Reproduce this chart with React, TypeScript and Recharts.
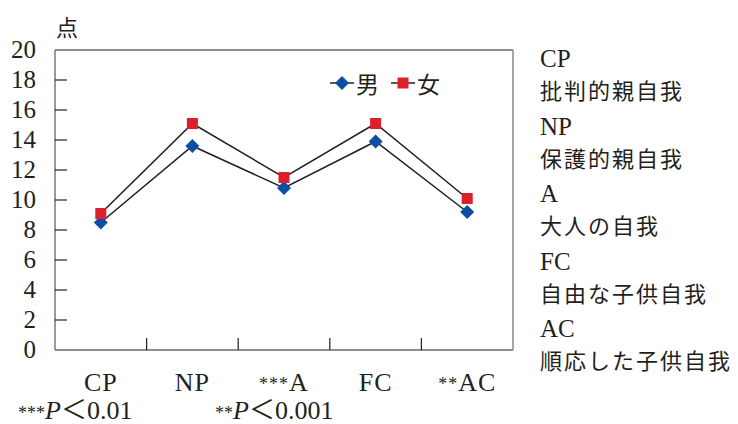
import { LineChart, Line, XAxis, YAxis, ReferenceLine } from "recharts";

const categories = ["CP", "NP", "***A", "FC", "**AC"];
const male = [8.5, 13.6, 10.8, 13.9, 9.2];
const female = [9.1, 15.1, 11.5, 15.1, 10.1];
const yTicks = [0, 2, 4, 6, 8, 10, 12, 14, 16, 18, 20];

const descriptions = [
  { code: "CP", name: "批判的親自我" },
  { code: "NP", name: "保護的親自我" },
  { code: "A", name: "大人の自我" },
  { code: "FC", name: "自由な子供自我" },
  { code: "AC", name: "順応した子供自我" },
];

const data = categories.map((c, i) => ({ name: c, male: male[i], female: female[i] }));

const W = 738;
const H = 424;
const xAxisHeight = 30;
const margin = { top: 50, right: 224, bottom: 74 - xAxisHeight, left: 10 };
const yAxisWidth = 45;
const halfBand = (W - margin.left - yAxisWidth - margin.right - 1) / categories.length / 2;

const SERIF = '"Liberation Serif", "DejaVu Serif", "Noto Sans CJK JP", serif';
const CJK = '"Noto Sans CJK JP", sans-serif';
const INK = "#231f20";
const BLUE = "#0b4ea2";
const RED = "#dc1f2b";

const YTick = ({ x, y, payload }: any) => {
  const v = payload.value;
  return (
    <g>
      {v > 0 && v < 20 && <line x1={x} x2={x + 12} y1={y} y2={y} stroke={INK} strokeWidth={1.2} />}
      <text x={x - 19} y={y} dy={8} textAnchor="end" fontSize={25} fill={INK} fontFamily={SERIF}>
        {v}
      </text>
    </g>
  );
};

const XTick = ({ x, y, payload, index }: any) => {
  const label: string = payload.value;
  const m = label.match(/^(\**)(.*)$/);
  const stars = m ? m[1] : "";
  const text = m ? m[2] : label;
  return (
    <g>
      {index < categories.length - 1 && (
        <line x1={x + halfBand} x2={x + halfBand} y1={y} y2={y - 12} stroke={INK} strokeWidth={1.2} />
      )}
      <text x={x} y={y + 41} textAnchor="middle" fontSize={26} letterSpacing={1} fill={INK} fontFamily={SERIF}>
        {stars && <tspan fontSize={18} dy={-1}>{stars}</tspan>}
        <tspan dy={stars ? 1 : 0}>{text}</tspan>
      </text>
    </g>
  );
};

const Diamond = ({ cx, cy }: any) => {
  const s = 7;
  return (
    <polygon
      points={`${cx},${cy - s} ${cx + s},${cy} ${cx},${cy + s} ${cx - s},${cy}`}
      fill={BLUE}
    />
  );
};

const Square = ({ cx, cy }: any) => <rect x={cx - 5.5} y={cy - 5.5} width={11} height={11} fill={RED} />;

export default function App() {
  return (
    <div
      style={{
        position: "absolute",
        left: 0,
        top: 0,
        width: W,
        height: H,
        background: "#fff",
        overflow: "hidden",
        fontFamily: SERIF,
        color: INK,
      }}
    >
      <LineChart width={W} height={H} data={data} margin={margin}>
        <XAxis
          dataKey="name"
          scale="band"
          height={xAxisHeight}
          axisLine={{ stroke: INK, strokeWidth: 1.2 }}
          tickLine={false}
          tickSize={0}
          tickMargin={0}
          tick={<XTick />}
          interval={0}
        />
        <YAxis
          yAxisId="l"
          domain={[0, 20]}
          ticks={yTicks}
          width={yAxisWidth}
          axisLine={{ stroke: "#777", strokeWidth: 1.5 }}
          tickLine={false}
          tickSize={0}
          tickMargin={0}
          tick={<YTick />}
          interval={0}
        />
        <YAxis
          yAxisId="r"
          orientation="right"
          domain={[0, 20]}
          width={1}
          tick={false}
          tickLine={false}
          axisLine={{ stroke: "#888", strokeWidth: 1.5 }}
        />
        <ReferenceLine yAxisId="l" y={20} stroke={INK} strokeWidth={1.2} />
        <Line
          yAxisId="l"
          dataKey="male"
          stroke={INK}
          strokeWidth={1.5}
          dot={<Diamond />}
          activeDot={false}
          isAnimationActive={false}
        />
        <Line
          yAxisId="l"
          dataKey="female"
          stroke={INK}
          strokeWidth={1.5}
          dot={<Square />}
          activeDot={false}
          isAnimationActive={false}
        />
      </LineChart>

      <div
        style={{
          position: "absolute",
          left: 330,
          top: 66,
          display: "flex",
          alignItems: "center",
          fontFamily: CJK,
          fontSize: 23,
        }}
      >
        <svg width={24} height={16}>
          <line x1={0} x2={24} y1={8} y2={8} stroke={INK} strokeWidth={1.5} />
          <polygon points="12,1 19,8 12,15 5,8" fill={BLUE} />
        </svg>
        <span style={{ marginLeft: 2, marginRight: 12 }}>男</span>
        <svg width={24} height={16}>
          <line x1={0} x2={24} y1={8} y2={8} stroke={INK} strokeWidth={1.5} />
          <rect x={6.5} y={2.5} width={11} height={11} fill={RED} />
        </svg>
        <span style={{ marginLeft: 2 }}>女</span>
      </div>

      <div style={{ position: "absolute", left: 56, top: 10, fontSize: 22, fontFamily: CJK }}>点</div>

      <div style={{ position: "absolute", left: 540, top: 44, width: 200 }}>
        {descriptions.map((d) => (
          <div key={d.code} style={{ height: 67.5 }}>
            <div style={{ fontSize: 25, lineHeight: "30px" }}>{d.code}</div>
            <div
              style={{
                fontSize: 22,
                lineHeight: "30px",
                letterSpacing: 2,
                whiteSpace: "nowrap",
                fontFamily: CJK,
              }}
            >
              {d.name}
            </div>
          </div>
        ))}
      </div>

      <div style={{ position: "absolute", left: 18, top: 400, fontSize: 26, lineHeight: "22px", whiteSpace: "nowrap" }}>
        <span style={{ display: "inline-block", width: 197 }}>
          <span style={{ fontSize: 18 }}>***</span>
          <i>P</i>＜0.01
        </span>
        <span>
          <span style={{ fontSize: 18 }}>**</span>
          <i>P</i>＜0.001
        </span>
      </div>
    </div>
  );
}
